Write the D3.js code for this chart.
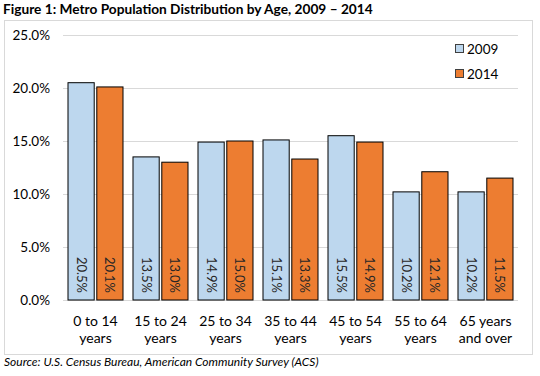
<!DOCTYPE html>
<html lang="en">
<head>
  <meta charset="UTF-8">
  <title>Metro Population Distribution by Age</title>
  <script src="https://d3js.org/d3.v7.min.js"></script>
  <style>
    body { margin: 0; background: #fff; font-family: Lato, "Open Sans", sans-serif; }
    .tick text { font-size: 13.5px; fill: #000; }
    .bar-label { font-size: 13px; fill: #262626; }
  </style>
</head>
<body>
  <div id="chart"></div>
  <script>
    const categories = [["0 to 14", "years"], ["15 to 24", "years"], ["25 to 34", "years"],
      ["35 to 44", "years"], ["45 to 54", "years"], ["55 to 64", "years"], ["65 years", "and over"]];
    const series = ["2009", "2014"];
    const values2009 = [20.5, 13.5, 14.9, 15.1, 15.5, 10.2, 10.2];
    const values2014 = [20.1, 13.0, 15.0, 13.3, 14.9, 12.1, 11.5];
    const yTicks = [0, 5, 10, 15, 20, 25];
    const colors = ["#bdd7ee", "#ed7d31"];

    const W = 540, H = 376;
    const svg = d3.select("#chart").append("svg")
      .attr("width", W).attr("height", H);

    svg.append("text")
      .attr("x", 3).attr("y", 14)
      .attr("font-weight", "bold").attr("font-size", 13.7)
      .text("Figure 1: Metro Population Distribution by Age, 2009 \u2013 2014");

    // outer chart frame
    svg.append("rect")
      .attr("x", 4.5).attr("y", 20.5).attr("width", 528).attr("height", 334)
      .attr("fill", "none").attr("stroke", "#d9d9d9");

    const x0 = d3.scaleBand().domain(d3.range(categories.length)).range([63, 518]);
    const x1 = d3.scaleBand().domain(series).range([5, x0.bandwidth() - 5]).paddingInner(0.09);
    const y = d3.scaleLinear().domain([0, 25]).range([300, 35]);

    svg.append("g")
      .attr("transform", "translate(63,0)")
      .call(d3.axisLeft(y).tickValues(yTicks).tickSize(0).tickPadding(13)
        .tickFormat(d => d.toFixed(1) + "%"))
      .call(g => g.select(".domain").remove())
      .call(g => g.selectAll(".tick text").attr("font-family", "Lato, sans-serif"));

    svg.append("g").selectAll("line")
      .data(yTicks).join("line")
      .attr("x1", 63).attr("x2", 518)
      .attr("y1", d => Math.round(y(d)) + 0.5).attr("y2", d => Math.round(y(d)) + 0.5)
      .attr("stroke", "#d9d9d9");

    const rows = categories.map((c, i) => ({ i, vals: [values2009[i], values2014[i]] }));

    const groups = svg.append("g").selectAll("g")
      .data(rows).join("g")
      .attr("transform", d => `translate(${x0(d.i)},0)`);

    groups.selectAll("rect")
      .data(d => d.vals.map((v, k) => ({ k, v })))
      .join("rect")
      .attr("x", d => x1(series[d.k]))
      .attr("y", d => y(d.v))
      .attr("width", x1.bandwidth())
      .attr("height", d => y(0) - y(d.v))
      .attr("fill", d => colors[d.k])
      .attr("stroke", "#000").attr("stroke-width", 1);

    groups.selectAll("text.bar-label")
      .data(d => d.vals.map((v, k) => ({ k, v })))
      .join("text")
      .attr("class", "bar-label")
      .attr("transform", d => `translate(${x1(series[d.k]) + x1.bandwidth() / 2},${y(0) - 7}) rotate(90)`)
      .attr("text-anchor", "end")
      .attr("dy", "0.35em")
      .text(d => d.v.toFixed(1) + "%");

    // category labels
    const cat = svg.append("g").selectAll("text")
      .data(categories).join("text")
      .attr("x", (d, i) => x0(i) + x0.bandwidth() / 2)
      .attr("y", 326)
      .attr("text-anchor", "middle")
      .attr("font-size", 14);
    cat.append("tspan").attr("x", (d, i) => x0(i) + x0.bandwidth() / 2).text(d => d[0]);
    cat.append("tspan").attr("x", (d, i) => x0(i) + x0.bandwidth() / 2).attr("dy", 17).text(d => d[1]);

    // legend
    const leg = svg.append("g").selectAll("g")
      .data(series).join("g")
      .attr("transform", (d, i) => `translate(455,${49 + i * 25})`);
    leg.append("rect")
      .attr("x", 0.5).attr("y", -4.5).attr("width", 8).attr("height", 8)
      .attr("fill", (d, i) => colors[i]).attr("stroke", "#404040");
    leg.append("text")
      .attr("x", 12).attr("y", 0).attr("dy", "0.35em")
      .attr("font-size", 13.5)
      .text(d => d);

    svg.append("text")
      .attr("x", 4).attr("y", 366)
      .attr("font-style", "italic").attr("font-size", 12)
      .text("Source: U.S. Census Bureau, American Community Survey (ACS)");
  </script>
</body>
</html>
